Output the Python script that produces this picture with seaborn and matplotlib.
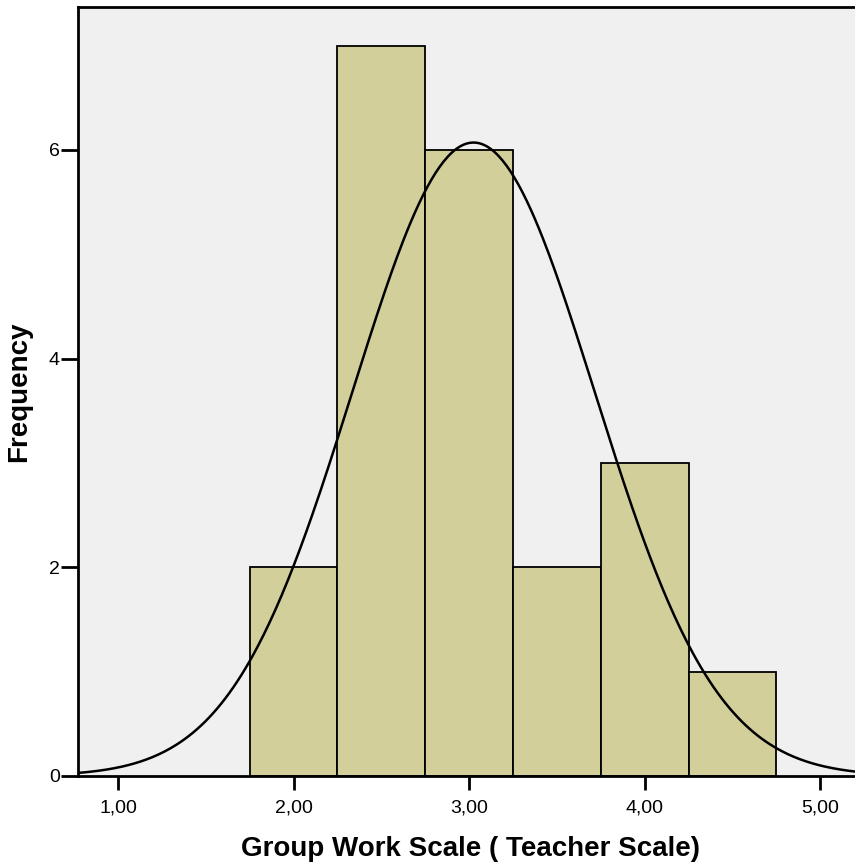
import numpy as np
import seaborn as sns
import matplotlib.pyplot as plt

# histogram bins (Group Work Scale, teacher scale)
bin_edges = [1.75, 2.25, 2.75, 3.25, 3.75, 4.25, 4.75]
bin_centers = [2.0, 2.5, 3.0, 3.5, 4.0, 4.5]
counts = [2, 7, 6, 2, 3, 1]

# fitted normal curve parameters
mean_val = 3.025
sd_val = 0.69
n_total = sum(counts)
bin_width = 0.5

x_ticks = [1.0, 2.0, 3.0, 4.0, 5.0]
x_tick_labels = ["1,00", "2,00", "3,00", "4,00", "5,00"]
y_ticks = [0, 2, 4, 6]

sns.set_style('white')
plt.rcParams['font.family'] = ['Liberation Sans', 'DejaVu Sans']
plt.rcParams['text.color'] = 'black'
plt.rcParams['axes.labelcolor'] = 'black'
plt.rcParams['xtick.color'] = 'black'
plt.rcParams['ytick.color'] = 'black'

fig = plt.figure(figsize=(8.55, 8.68), dpi=100)
ax = fig.add_axes([78 / 855, 92 / 868, (862 - 78) / 855, (776 - 7) / 868])
ax.set_facecolor('#F0F0F0')

sns.histplot(x=bin_centers, weights=counts, bins=bin_edges, ax=ax,
             color='#D3CF9A', alpha=1, edgecolor='black', linewidth=1.3)

# normal curve
xs = np.linspace(0.7, 5.3, 400)
ys = n_total * bin_width / (sd_val * np.sqrt(2 * np.pi)) * np.exp(-0.5 * ((xs - mean_val) / sd_val) ** 2)
sns.lineplot(x=xs, y=ys, ax=ax, color='black', linewidth=1.8)

ax.set_xlim(0.772, 5.238)
ax.set_ylim(0, 7.37)
ax.set_xticks(x_ticks)
ax.set_xticklabels(x_tick_labels)
ax.set_yticks(y_ticks)

for side in ['left', 'top', 'bottom']:
    ax.spines[side].set_color('black')
    ax.spines[side].set_linewidth(2)
ax.spines['right'].set_visible(False)

ax.tick_params(axis='x', direction='out', length=10, width=2, labelsize=14, pad=7, bottom=True)
ax.tick_params(axis='y', direction='out', length=12, width=2, labelsize=14, pad=1, left=True)

ax.set_xlabel('Group Work Scale ( Teacher Scale)', fontsize=20, fontweight='bold', labelpad=14)
ax.set_ylabel('Frequency', fontsize=20, fontweight='bold', labelpad=12)

fig.savefig('out.png', dpi=100)
